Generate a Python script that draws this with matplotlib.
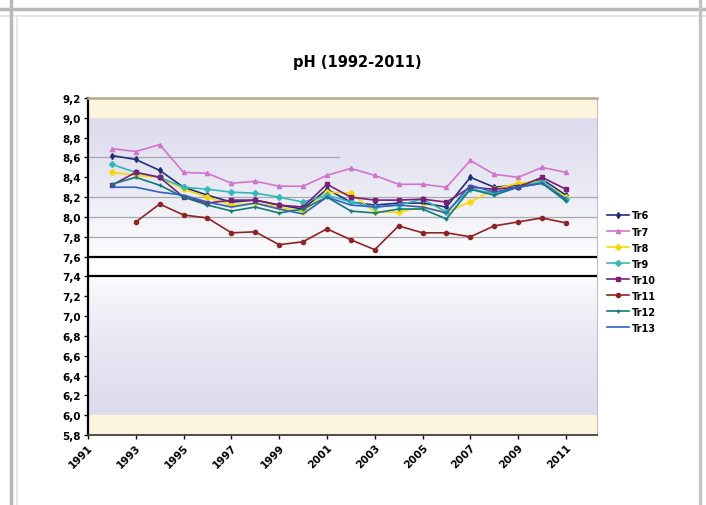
import numpy as np
import matplotlib
matplotlib.use('Agg')
import matplotlib.pyplot as plt
from matplotlib.lines import Line2D

# ---data---
years = list(range(1992, 2012))
tr6  = [8.62, 8.58, 8.47, 8.30, 8.22, 8.15, 8.17, 8.12, 8.08, 8.28, 8.15, 8.12, 8.14, 8.14, 8.10, 8.40, 8.30, 8.32, 8.38, 8.22]
tr7  = [8.69, 8.66, 8.73, 8.45, 8.44, 8.34, 8.36, 8.31, 8.31, 8.42, 8.49, 8.42, 8.33, 8.33, 8.30, 8.57, 8.43, 8.40, 8.50, 8.45]
tr8  = [8.45, 8.42, 8.40, 8.28, 8.20, 8.12, 8.14, 8.10, 8.05, 8.25, 8.24, 8.05, 8.05, 8.10, 8.05, 8.15, 8.28, 8.34, 8.36, 8.20]
tr9  = [8.53, 8.45, 8.40, 8.30, 8.28, 8.25, 8.24, 8.20, 8.15, 8.22, 8.15, 8.10, 8.12, 8.18, 8.05, 8.28, 8.24, 8.30, 8.36, 8.18]
tr10 = [8.32, 8.45, 8.40, 8.20, 8.14, 8.17, 8.17, 8.12, 8.10, 8.33, 8.20, 8.17, 8.17, 8.18, 8.15, 8.30, 8.28, 8.30, 8.40, 8.28]
tr11 = [np.nan, 7.95, 8.13, 8.02, 7.99, 7.84, 7.85, 7.72, 7.75, 7.88, 7.77, 7.67, 7.91, 7.84, 7.84, 7.80, 7.91, 7.95, 7.99, 7.94]
tr12 = [8.33, 8.40, 8.32, 8.20, 8.12, 8.06, 8.10, 8.04, 8.08, 8.20, 8.06, 8.04, 8.08, 8.08, 7.98, 8.28, 8.22, 8.30, 8.34, 8.16]
tr13 = [8.30, 8.30, 8.25, 8.22, 8.15, 8.10, 8.14, 8.08, 8.03, 8.20, 8.12, 8.10, 8.12, 8.10, 8.04, 8.32, 8.25, 8.30, 8.34, 8.18]
names = ['Tr6', 'Tr7', 'Tr8', 'Tr9', 'Tr10', 'Tr11', 'Tr12', 'Tr13']
series = [tr6, tr7, tr8, tr9, tr10, tr11, tr12, tr13]
xtick_years = list(range(1991, 2012, 2))
yticks = np.round(np.arange(5.8, 9.21, 0.2), 1)

colors  = ['#1F2F7A', '#D274CC', '#F7D900', '#33B9B9', '#7A1F7A', '#8E2424', '#127A7A', '#2F62C2']
markers = ['d', '^', 'D', 'D', 's', 'o', '+', None]

x0, x1 = 1991, 2012.3
y0, y1 = 5.8, 9.2

fig = plt.figure(figsize=(7.06, 5.06), dpi=100)
ax = fig.add_axes([0.1246, 0.1383, 0.7210, 0.6660])

# ---background bands---
yy = np.linspace(y0, y1, 400)
cream = np.array([0.99, 0.96, 0.87])
lav = np.array([0.86, 0.86, 0.93])
white = np.array([1.0, 1.0, 1.0])
img = np.zeros((len(yy), 1, 3))
for k, v in enumerate(yy):
    if v >= 9.0 or v < 6.0:
        c = cream
    elif v >= 7.6:
        t = (v - 7.6) / 1.4
        c = white + (lav - white) * t ** 0.8
    elif v >= 7.4:
        c = white
    else:
        t = (7.4 - v) / 1.4
        c = white + (lav - white) * t ** 0.6
    img[k, 0] = c
ax.imshow(img, extent=[x0, x1, y0, y1], origin='lower', aspect='auto', zorder=0)

# grid-ish lines
for g in [8.2, 8.0, 7.8]:
    ax.axhline(g, color='#A8A8B0', lw=0.9, zorder=1)
ax.plot([x0, 2001.5], [8.6, 8.6], color='#A8A8B0', lw=0.9, zorder=1)
for g in [7.6, 7.4]:
    ax.axhline(g, color='black', lw=1.6, zorder=2)

for name, vals, c, m in zip(names, series, colors, markers):
    ax.plot(years, vals, color=c, lw=1.2, marker=m, ms=3, mew=1.0, label=name, zorder=3)

ax.set_xlim(x0, x1)
ax.set_ylim(y0, y1)
ax.set_xticks(xtick_years)
ax.set_xticklabels([str(y) for y in xtick_years], rotation=45, ha='right',
                   rotation_mode='anchor', fontsize=7.5, fontweight='bold')
ax.set_yticks(yticks)
ax.set_yticklabels([('%.1f' % v).replace('.', ',') for v in yticks], fontsize=7.5, fontweight='bold')
ax.tick_params(axis='both', length=3, width=1, pad=2)

ax.spines['left'].set_linewidth(1.6)
ax.spines['left'].set_color('black')
ax.spines['bottom'].set_linewidth(1.3)
ax.spines['bottom'].set_color('#404040')
ax.spines['top'].set_linewidth(1.8)
ax.spines['top'].set_color('#B4AC90')
ax.spines['right'].set_linewidth(0.8)
ax.spines['right'].set_color('#C0C0C0')

leg = ax.legend(loc='center left', bbox_to_anchor=(1.0, 0.485), frameon=False,
                prop={'size': 7, 'weight': 'bold'}, labelspacing=0.62,
                handlelength=2.3, handletextpad=0.3, borderaxespad=0.6)

fig.text(0.506, 0.877, 'pH (1992-2011)', ha='center', va='center', fontsize=10.5, fontweight='bold')

# outer chart frame lines
fig.add_artist(Line2D([0, 1], [1 - 10 / 506, 1 - 10 / 506], color='#B8B8B8', lw=2.5))
fig.add_artist(Line2D([0, 1], [1 - 17 / 506, 1 - 17 / 506], color='#E0E0E0', lw=1.2))
fig.add_artist(Line2D([11 / 706, 11 / 706], [0, 1], color='#B8B8B8', lw=2.5))
fig.add_artist(Line2D([17 / 706, 17 / 706], [0, 1 - 17 / 506], color='#E0E0E0', lw=1.2))
fig.add_artist(Line2D([700 / 706, 700 / 706], [0, 1], color='#C4C4C4', lw=2.5))

plt.savefig('out.png', dpi=100)
